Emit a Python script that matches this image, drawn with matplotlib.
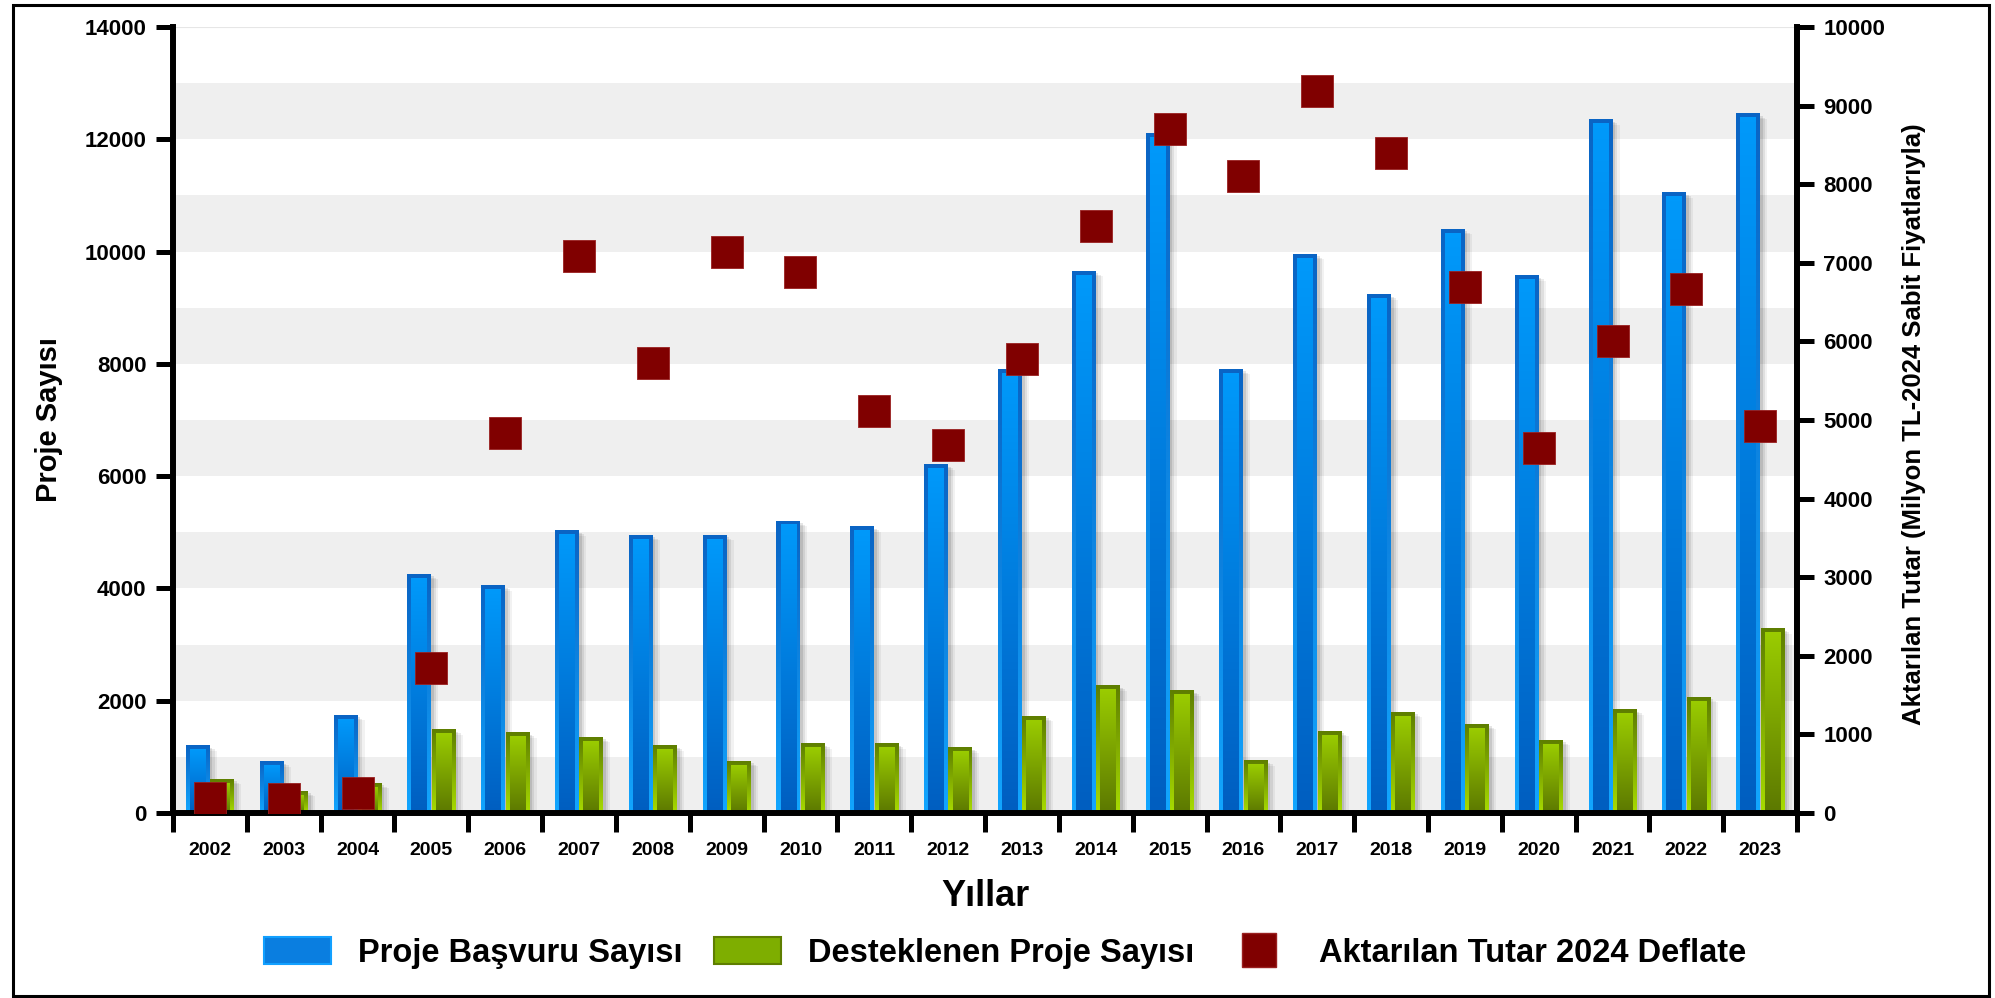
import numpy as np
import matplotlib
matplotlib.use("Agg")
import matplotlib.pyplot as plt
from matplotlib.colors import LinearSegmentedColormap
from matplotlib.patches import Patch, Rectangle
from matplotlib.lines import Line2D

# Data
years = [str(y) for y in range(2002, 2024)]
basvuru = [1200, 910, 1740, 4250, 4050, 5030, 4950, 4950, 5200, 5100, 6200,
           7900, 9650, 12100, 7900, 9950, 9230, 10400, 9570, 12350, 11050, 12450]
desteklenen = [600, 390, 530, 1480, 1430, 1350, 1200, 920, 1230, 1230, 1160,
               1720, 2270, 2180, 930, 1455, 1795, 1580, 1295, 1840, 2060, 3280]
aktarilan = [195, 180, 260, 1840, 4840, 7080, 5730, 7140, 6880, 5110, 4680,
             5780, 7470, 8700, 8100, 9190, 8390, 6690, 4640, 6010, 6660, 4920]

series_names = ["Proje Başvuru Sayısı", "Desteklenen Proje Sayısı",
                "Aktarılan Tutar 2024 Deflate"]

plt.rcParams["font.family"] = ["Liberation Sans", "DejaVu Sans"]
plt.rcParams["font.weight"] = "bold"

# colour ramps (bottom colour, top colour)
blue_edge = LinearSegmentedColormap.from_list("be", ["#12a6ff", "#0a64c4"])
blue_fill = LinearSegmentedColormap.from_list("bf", ["#005ec0", "#0099fa"])
green_edge = LinearSegmentedColormap.from_list("ge", ["#a8dc00", "#5e7e00"])
green_fill = LinearSegmentedColormap.from_list("gf", ["#5c7800", "#9acc00"])
grad = np.linspace(0, 1, 128).reshape(-1, 1)

fig = plt.figure(figsize=(19.95, 9.98), dpi=100)
ax = fig.add_axes([0.0867, 0.1854, 0.8141, 0.7876])

x = np.arange(len(years))
bw = 0.32
inset_x = 0.055
inset_y = 70


def gradient_bars(ax, xs, heights, edge_cmap, fill_cmap):
    # soft drop shadow on the right
    for off, a in [(0.04, 0.10), (0.07, 0.08), (0.10, 0.05)]:
        ax.bar(xs + off, np.array(heights) - off * 900, bw, color="black",
               alpha=a, linewidth=0, zorder=2)
    for xi, h in zip(xs, heights):
        x0, x1 = xi - bw / 2, xi + bw / 2
        ax.imshow(grad, extent=[x0, x1, 0, h], cmap=edge_cmap, aspect="auto",
                  origin="lower", zorder=3)
        ax.imshow(grad, extent=[x0 + inset_x, x1 - inset_x, 0, h - inset_y],
                  cmap=fill_cmap, aspect="auto", origin="lower", zorder=3.1)


# alternating background bands
for lo in range(0, 14000, 2000):
    ax.axhspan(lo, lo + 1000, color="#efefef", zorder=0, linewidth=0)
ax.axhline(14000, color="#e6e6e6", lw=1.5, zorder=0)

gradient_bars(ax, x - 0.165, basvuru, blue_edge, blue_fill)
gradient_bars(ax, x + 0.165, desteklenen, green_edge, green_fill)

ax.set_xlim(-0.5, len(years) - 0.5)
ax.set_ylim(0, 14000)

ax.set_xticks(x)
ax.set_xticklabels(years)
ax.set_xticks(np.arange(-0.5, len(years), 1), minor=True)
ax.tick_params(axis="x", which="major", length=0, pad=21, labelsize=14)
ax.tick_params(axis="x", which="minor", length=14, width=3.6, direction="out")
ax.set_yticks(range(0, 14001, 2000))
ax.tick_params(axis="y", length=12, width=3.6, pad=7, labelsize=16)

for s in ["top", "right"]:
    ax.spines[s].set_visible(False)
for s in ["left", "bottom"]:
    ax.spines[s].set_linewidth(4.3)
    ax.spines[s].set_zorder(10)

ax.set_xlabel("Yıllar", fontsize=26, fontweight="bold")
ax.xaxis.set_label_coords(0.5, -0.084)
ax.set_ylabel("Proje Sayısı", fontsize=21, fontweight="bold")
ax.yaxis.set_label_coords(-0.068, 0.5)

# right axis for transferred amount
ax2 = ax.twinx()
ax2.scatter(x, aktarilan, marker="s", s=560, color="#800000",
            edgecolors="#9a2020", linewidths=0.6, zorder=5)
ax2.set_ylim(0, 10000)
ax2.set_yticks(range(0, 10001, 1000))
ax2.tick_params(axis="y", length=12, width=3.6, pad=7, labelsize=16)
for s in ["top", "left", "bottom"]:
    ax2.spines[s].set_visible(False)
ax2.spines["right"].set_linewidth(4.3)
ax2.set_ylabel("Aktarılan Tutar (Milyon TL-2024 Sabit Fiyatlarıyla)",
               fontsize=18.5, fontweight="bold")
ax2.yaxis.set_label_coords(1.0647, 0.495)

handles = [
    Patch(facecolor="#0a7ee0", edgecolor="#12a0ff", linewidth=1.5),
    Patch(facecolor="#7eae00", edgecolor="#5e7e00", linewidth=1.5),
    Line2D([], [], marker="s", linestyle="none", markersize=24,
           markerfacecolor="#800000", markeredgecolor="#9a2020"),
]
fig.legend(handles, series_names, loc="center", bbox_to_anchor=(0.504, 0.045),
           ncol=3, frameon=False, fontsize=23.5, handlelength=2.05,
           handleheight=0.9, handletextpad=0.83, columnspacing=0.95)

# outer frame
fig.add_artist(Rectangle((0.0065, 0.002), 0.9905, 0.993,
                         transform=fig.transFigure, fill=False,
                         edgecolor="black", linewidth=2.2))

fig.savefig("out.png", dpi=100)
